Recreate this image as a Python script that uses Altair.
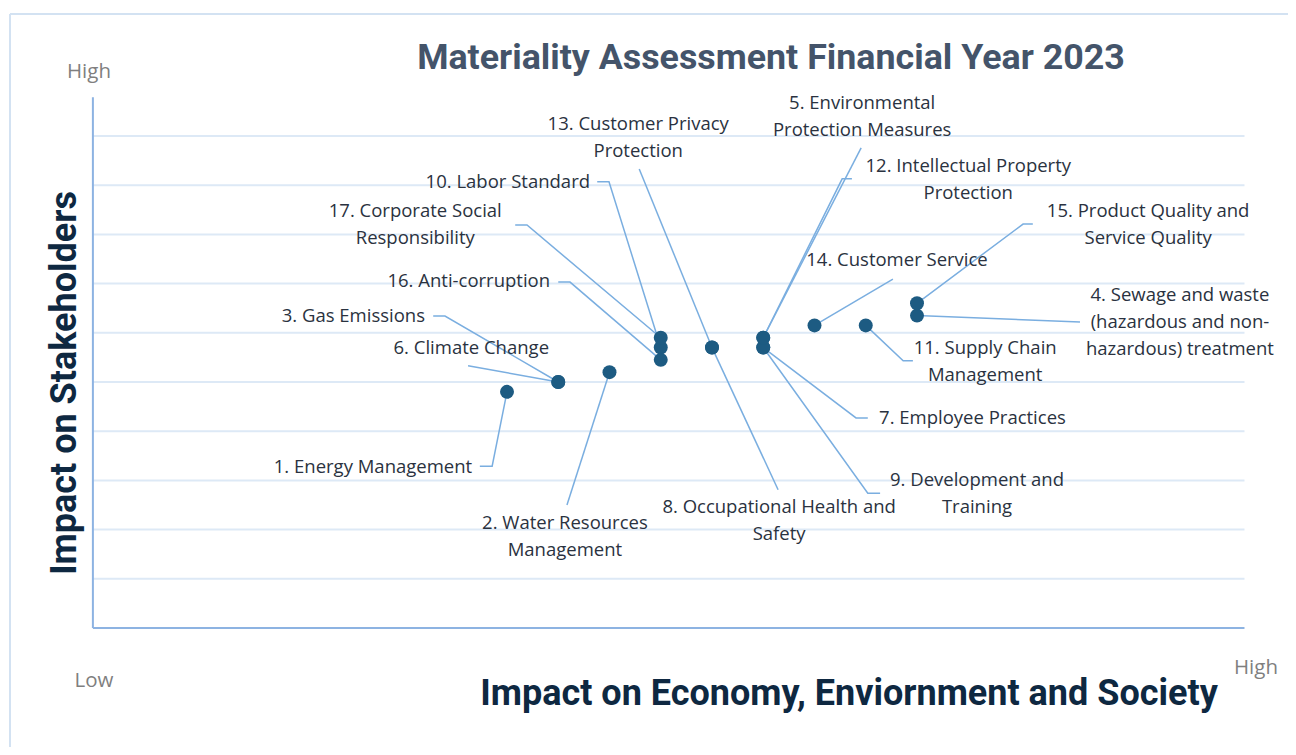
import altair as alt
import pandas as pd

# ---------------- data ----------------
ids = list(range(1, 18))
names = [
    "1. Energy Management",
    "2. Water Resources\nManagement",
    "3. Gas Emissions",
    "4.  Sewage and waste\n(hazardous and non-\nhazardous) treatment",
    "5. Environmental\nProtection Measures",
    "6. Climate Change",
    "7. Employee Practices",
    "8. Occupational Health and\nSafety",
    "9. Development and\nTraining",
    "10. Labor Standard",
    "11. Supply Chain\nManagement",
    "12. Intellectual Property\nProtection",
    "13. Customer Privacy\nProtection",
    "14. Customer Service",
    "15. Product Quality and\nService Quality",
    "16. Anti-corruption",
    "17. Corporate Social\nResponsibility",
]
# impact on economy, environment and society (x)
economy = [8, 10, 9, 16, 13, 9, 13, 12, 13, 11, 15, 13, 12, 14, 16, 11, 11]
# impact on stakeholders (y)
stakeholders = [4.8, 5.2, 5.0, 6.35, 5.9, 5.0, 5.7, 5.7, 5.7, 5.7, 6.15, 5.9, 5.7, 6.15, 6.6, 5.45, 5.9]

# ---------------- annotation layout (chart units; y = first text line) ----------------
label_x = [7.32, 9.13, 6.40, 21.13, 14.93, 8.82, 15.26, 13.31, 17.17, 9.62, 17.33, 17.00, 10.56, 15.61, 20.51, 8.84, 6.21]
label_y = [3.27, 2.13, 6.34, 6.77, 10.67, 5.69, 4.27, 2.46, 3.01, 9.07, 5.69, 9.39, 10.24, 7.48, 8.48, 7.05, 8.48]
label_align = ["right", "center", "right", "center", "center", "right", "left", "center", "center",
               "right", "center", "center", "center", "center", "center", "right", "center"]
# leader line: start point and optional elbow (None = straight)
lead_start = [(7.47, 3.29), (9.17, 2.50), (6.56, 6.34), (19.18, 6.22), (14.91, 9.76), (7.24, 5.33),
              (15.04, 4.27), (13.29, 2.81), (15.28, 2.74), (9.76, 9.07), (15.92, 5.43), (14.73, 9.13),
              (10.58, 9.33), (15.53, 7.09), (18.26, 8.21), (9.00, 7.03), (8.16, 8.19)]
lead_elbow = [(7.71, 3.29), None, (6.79, 6.34), None, None, None,
              (14.81, 4.27), None, (15.04, 2.74), (9.99, 9.07), (15.73, 5.43), (14.54, 9.13),
              None, None, (18.07, 8.21), (9.23, 7.03), (8.39, 8.19)]

grid_values = [1, 2, 3, 4, 5, 6, 7, 8, 9, 10]
X_MIN, X_MAX = -0.08, 22.39
Y_TOP = 10.79

points = pd.DataFrame({"id": ids, "name": names, "x": economy, "y": stakeholders})
labels = pd.DataFrame({"id": ids, "name": names, "x": label_x, "y": label_y, "align": label_align})

rows = []
for i, pid in enumerate(ids):
    seq = [lead_start[i]]
    if lead_elbow[i] is not None:
        seq.append(lead_elbow[i])
    seq.append((economy[i], stakeholders[i]))
    for k, (a, b) in enumerate(seq):
        rows.append({"id": pid, "o": k, "x": a, "y": b})
leaders = pd.DataFrame(rows)

grid = pd.DataFrame({"y": grid_values, "x": X_MIN, "x2": X_MAX})

xs = alt.Scale(domain=[-1.7366, 23.239], nice=False, zero=False)
ys = alt.Scale(domain=[-2.4187, 12.6016], nice=False, zero=False)
X = lambda f="x": alt.X(f"{f}:Q", scale=xs, axis=None)
Y = lambda f="y": alt.Y(f"{f}:Q", scale=ys, axis=None)

W, H = 1280, 739
LABEL_FONT = "Open Sans"
LABEL_COLOR = "#2a3240"

border = alt.Chart(pd.DataFrame({"a": [0]})).mark_rule(color="#d3e2f2", strokeWidth=2)
border_v = border.encode(x=alt.value(2), y=alt.value(6), y2=alt.value(H))
border_h = border.encode(x=alt.value(2), x2=alt.value(W), y=alt.value(6))

gridlines = alt.Chart(grid).mark_rule(color="#dde9f6", strokeWidth=2).encode(
    x=X(), x2="x2:Q", y=Y()
)
axis_df = pd.DataFrame({"x": [X_MIN, X_MIN], "x2": [X_MIN, X_MAX], "y": [0, 0], "y2": [Y_TOP, 0]})
axes = alt.Chart(axis_df).mark_rule(color="#8db3e2", strokeWidth=2).encode(
    x=X(), x2="x2:Q", y=Y(), y2="y2:Q"
)

lead = alt.Chart(leaders).mark_line(color="#7aaee0", strokeWidth=1.5).encode(
    x=X(), y=Y(), detail="id:N", order="o:Q"
)

dots = alt.Chart(points).mark_circle(size=195, color="#1d5b82", opacity=1).encode(
    x=X(), y=Y()
)

def text_layer(al):
    return alt.Chart(labels).transform_filter(alt.datum.align == al).mark_text(
        align=al, baseline="middle", font=LABEL_FONT, fontSize=18.5, color=LABEL_COLOR,
        lineBreak="\n", lineHeight=27
    ).encode(x=X(), y=Y(), text="name:N")

def deco(text, px, py, **kw):
    return alt.Chart(pd.DataFrame({"t": [text]})).mark_text(**kw).encode(
        x=alt.value(px - 8), y=alt.value(py - 8), text="t:N"
    )

title = deco("Materiality Assessment Financial Year 2023", 771, 58, font="Roboto", fontSize=35.8,
             fontWeight="bold", color="#44546a", align="center", baseline="middle")
ytitle = deco("Impact on Stakeholders", 65, 383, font="Roboto", fontSize=36, fontWeight="bold",
              color="#0e2841", align="center", baseline="middle", angle=270)
xtitle = deco("Impact on Economy, Enviornment and Society", 849, 694, font="Roboto", fontSize=36,
              fontWeight="bold", color="#0e2841", align="center", baseline="middle")
hi_y = deco("High", 89, 72, font=LABEL_FONT, fontSize=20.5, color="#7f7f7f", align="center", baseline="middle")
lo = deco("Low", 94, 681, font=LABEL_FONT, fontSize=20.5, color="#7f7f7f", align="center", baseline="middle")
hi_x = deco("High", 1256, 668, font=LABEL_FONT, fontSize=20.5, color="#7f7f7f", align="center", baseline="middle")

chart = alt.layer(
    border_v, border_h, gridlines, axes, lead, dots,
    text_layer("left"), text_layer("right"), text_layer("center"),
    title, ytitle, xtitle, hi_y, lo, hi_x,
).properties(
    width=W, height=H, padding=0, autosize=alt.AutoSizeParams(type="none"), background="white"
).configure_view(stroke=None)

chart.save("out.html", embed_options={"renderer": "svg", "actions": False})
